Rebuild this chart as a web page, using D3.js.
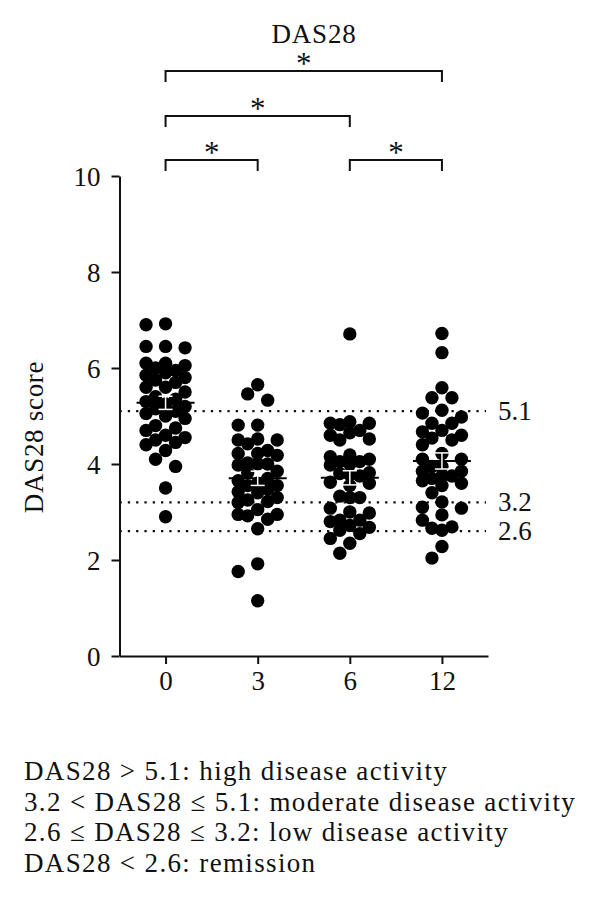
<!DOCTYPE html>
<html>
<head>
<meta charset="utf-8">
<script src="https://cdn.jsdelivr.net/npm/d3@7"></script>
<style>
  body { margin: 0; background: #fff; }
  svg text { font-family: "Liberation Serif", "Times New Roman", serif; fill: #111; }
</style>
</head>
<body>
<div id="chart"></div>
<script>
// Data
var categories = ["0", "3", "6", "12"]
var month0 = [6.9, 6.92, 6.45, 6.42, 6.45, 6.1, 6.1, 5.95, 6.05, 6.0, 5.9, 5.85, 5.8, 5.75, 5.7,
  5.6, 5.6, 5.5, 5.4, 5.35, 5.3, 5.25, 5.2, 5.15, 5.1, 5.05, 5.0, 4.95, 4.8, 4.75, 4.7, 4.6,
  4.55, 4.5, 4.45, 4.4, 4.28, 4.1, 3.95, 3.5, 2.9]
var month3 = [5.65, 5.46, 5.33, 4.81, 4.81, 4.52, 4.5, 4.5, 4.42, 4.28, 4.22, 4.18, 4.22, 4.0,
  4.02, 3.98, 4.0, 3.85, 3.82, 3.7, 3.65, 3.6, 3.55, 3.55, 3.48, 3.42, 3.4, 3.3, 3.25, 3.2,
  3.22, 3.05, 2.95, 2.92, 2.95, 2.85, 2.65, 1.92, 1.76, 1.15]
var month6 = [6.71, 4.88, 4.85, 4.85, 4.82, 4.7, 4.65, 4.6, 4.52, 4.5, 4.19, 4.15, 4.1, 4.05,
  4.05, 4.0, 3.98, 3.82, 3.8, 3.78, 3.75, 3.62, 3.6, 3.55, 3.33, 3.3, 3.3, 3.08, 3.0, 2.98,
  2.83, 2.83, 2.8, 2.72, 2.68, 2.62, 2.55, 2.45, 2.35, 2.14]
var month12 = [6.72, 6.32, 5.59, 5.38, 5.38, 5.12, 5.06, 4.98, 4.85, 4.85, 4.7, 4.67, 4.6, 4.54,
  4.5, 4.4, 4.22, 4.1, 4.1, 3.95, 3.95, 3.85, 3.85, 3.75, 3.75, 3.7, 3.65, 3.6, 3.55, 3.4,
  3.21, 3.1, 3.08, 2.94, 2.83, 2.69, 2.66, 2.62, 2.28, 2.04]
var groups = [month0, month3, month6, month12]
var yTicks = [0, 2, 4, 6, 8, 10]
var thresholds = [5.1, 3.2, 2.6]
var compFrom = ["0", "0", "0", "6"]
var compTo = ["12", "6", "3", "12"]
var compLevel = [2, 1, 0, 0]
var notes = [
  "DAS28 > 5.1: high disease activity",
  "3.2 < DAS28 \u2264 5.1: moderate disease activity",
  "2.6 \u2264 DAS28 \u2264 3.2: low disease activity",
  "DAS28 < 2.6: remission"
]

var width = 600
var height = 919
var plotLeft = 119.5, plotRight = 488, plotTop = 176, plotBottom = 656
var r = 6.7

var svg = d3.select("#chart")
  .append("svg")
  .attr("width", width)
  .attr("height", height)

var x = d3.scalePoint()
  .domain(categories)
  .range([plotLeft, plotRight])
  .padding(0.5)

var y = d3.scaleLinear()
  .domain([0, 10])
  .range([plotBottom, plotTop])

// Title
svg.append("text")
  .attr("x", 314)
  .attr("y", 43)
  .attr("text-anchor", "middle")
  .style("font-size", "27px")
  .style("letter-spacing", "0.8px")
  .text("DAS28")

// Threshold dotted lines
svg.selectAll(".thr")
  .data(thresholds)
  .enter()
  .append("line")
  .attr("x1", plotLeft)
  .attr("x2", plotRight - 2)
  .attr("y1", d => y(d))
  .attr("y2", d => y(d))
  .style("stroke", "#111")
  .style("stroke-width", 2.3)
  .style("stroke-dasharray", "2.3,6")

svg.selectAll(".thr-label")
  .data(thresholds)
  .enter()
  .append("text")
  .attr("x", 498)
  .attr("y", d => y(d))
  .attr("dy", "0.33em")
  .style("font-size", "27px")
  .text(d => d.toFixed(1))

// Compact scatter: each point takes one of a few lanes, the one
// nearest the centre that keeps it clear of its neighbours
function swarm(values) {
  var sorted = values.map(v => ({ v: v, py: y(v) })).sort((a, b) => a.py - b.py)
  var lanes = [0, -10, 10, -19.5, 19.5]
  var minGap = 13
  var placed = []
  sorted.forEach(function(p) {
    var best = null, bestGap = -1
    for (var i = 0; i < lanes.length; i++) {
      var gap = d3.min(placed, q => Math.hypot(q.dx - lanes[i], q.py - p.py))
      if (gap === undefined) gap = Infinity
      if (gap >= minGap) { best = lanes[i]; break }
      if (gap > bestGap) { bestGap = gap; best = lanes[i] }
    }
    p.dx = best
    placed.push(p)
  })
  return placed
}

groups.forEach(function(vals, i) {
  var cx = x(categories[i])
  svg.append("g")
    .selectAll("circle")
    .data(swarm(vals))
    .enter()
    .append("circle")
    .attr("cx", d => cx + d.dx)
    .attr("cy", d => d.py)
    .attr("r", r)
    .style("fill", "#000")

  // Mean and SEM
  var m = d3.mean(vals)
  var sem = d3.deviation(vals) / Math.sqrt(vals.length)
  var g = svg.append("g")
  g.append("line")
    .attr("x1", cx - 29).attr("x2", cx + 29)
    .attr("y1", y(m)).attr("y2", y(m))
    .style("stroke", "#000")
    .style("stroke-width", 2)
  g.append("line")
    .attr("x1", cx).attr("x2", cx)
    .attr("y1", y(m - sem)).attr("y2", y(m + sem))
    .style("stroke", "#fff")
    .style("stroke-width", 1.5)
  g.selectAll(".cap")
    .data([m - sem, m + sem])
    .enter()
    .append("line")
    .attr("x1", cx - 7).attr("x2", cx + 7)
    .attr("y1", d => y(d)).attr("y2", d => y(d))
    .style("stroke", "#fff")
    .style("stroke-width", 1.5)
})

// Axes
var yAxis = d3.axisLeft(y)
  .tickValues(yTicks)
  .tickSizeInner(8)
  .tickSizeOuter(0)
  .tickPadding(11)

svg.append("g")
  .attr("transform", `translate(${plotLeft},0)`)
  .call(yAxis)
  .call(g => g.selectAll("path, line").style("stroke", "#111").style("stroke-width", 2))
  .selectAll("text")
  .style("font-size", "27px")
  .attr("dy", "0.34em")

var xAxis = d3.axisBottom(x)
  .tickSizeInner(8)
  .tickSizeOuter(0)
  .tickPadding(7)

svg.append("g")
  .attr("transform", `translate(0,${plotBottom})`)
  .call(xAxis)
  .call(g => g.selectAll("path, line").style("stroke", "#111").style("stroke-width", 2))
  .selectAll("text")
  .style("font-size", "27px")
  .attr("dy", "0.72em")

// Y axis label
svg.append("text")
  .attr("transform", "translate(43,437) rotate(-90)")
  .attr("text-anchor", "middle")
  .style("font-size", "27px")
  .style("letter-spacing", "0.7px")
  .text("DAS28 score")

// Significance brackets
var levelY = [160, 116, 71]
compFrom.forEach(function(a, i) {
  var x1 = x(a), x2 = x(compTo[i]), by = levelY[compLevel[i]]
  svg.append("path")
    .attr("d", `M${x1},${by + 11}V${by}H${x2}V${by + 11}`)
    .style("fill", "none")
    .style("stroke", "#111")
    .style("stroke-width", 2)
  svg.append("text")
    .attr("x", (x1 + x2) / 2)
    .attr("y", by + 3)
    .attr("text-anchor", "middle")
    .style("font-size", "31px")
    .text("*")
})

// Footnotes
svg.selectAll(".note")
  .data(notes)
  .enter()
  .append("text")
  .attr("x", 24)
  .attr("y", (d, i) => 780 + i * 30.6)
  .style("font-size", "27px")
  .style("letter-spacing", "1.35px")
  .text(d => d)
</script>
</body>
</html>
